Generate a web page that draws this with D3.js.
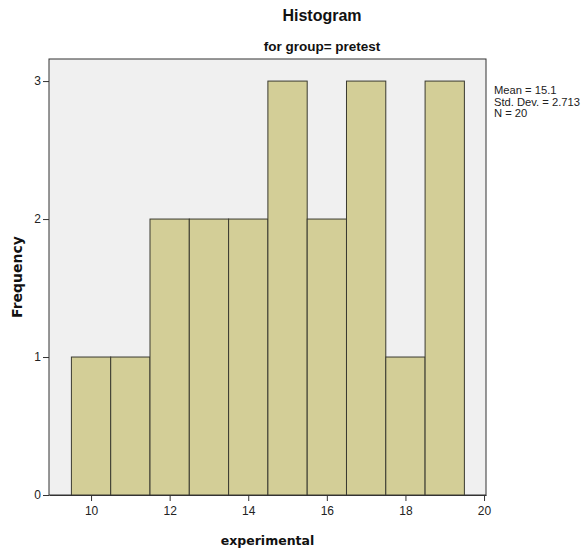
<!DOCTYPE html>
<html>
<head>
<meta charset="utf-8">
<script src="https://cdn.jsdelivr.net/npm/d3@7"></script>
<style>
  body { margin: 0; background: #fff; }
  svg { display: block; }
</style>
</head>
<body>
<svg width="583" height="554"></svg>
<script>
// bin centres (width 1) and frequencies
var binCentres = [10, 11, 12, 13, 14, 15, 16, 17, 18, 19];
var frequencies = [1, 1, 2, 2, 2, 3, 2, 3, 1, 3];
var xTicks = [10, 12, 14, 16, 18, 20];
var yTicks = [0, 1, 2, 3];
var statsLines = ["Mean = 15.1", "Std. Dev. = 2.713", "N = 20"];

(function() {
    var data = binCentres.map(function(c, i) {
        return { x0: c - 0.5, x1: c + 0.5, count: frequencies[i] };
    });

    var svg = d3.select("svg");
    var plot = { left: 49, right: 486, top: 59, bottom: 495 };
    var tickFont = "'Liberation Sans', Arial, sans-serif";

    var x = d3.scaleLinear().domain([8.93, 20.05]).range([plot.left, plot.right]);
    var y = d3.scaleLinear().domain([0, 3.16]).range([plot.bottom, plot.top]);

    //plot background
    svg.append("rect")
        .attr("x", plot.left)
        .attr("y", plot.top)
        .attr("width", plot.right - plot.left)
        .attr("height", plot.bottom - plot.top)
        .attr("fill", "#f0f0f0")
        .attr("stroke", "#333")
        .attr("stroke-width", 1);

    //bars
    svg.selectAll(".bar")
        .data(data)
      .enter().append("rect")
        .attr("class", "bar")
        .attr("x", function(d) { return x(d.x0); })
        .attr("y", function(d) { return y(d.count); })
        .attr("width", function(d) { return x(d.x1) - x(d.x0); })
        .attr("height", function(d) { return y(0) - y(d.count); })
        .attr("fill", "#d3ce97")
        .attr("stroke", "#3a3a30")
        .attr("stroke-width", 1);

    //X axis
    var xAxis = svg.append("g")
        .attr("transform", "translate(0," + plot.bottom + ")")
        .call(d3.axisBottom(x).tickValues(xTicks).tickSize(6).tickSizeOuter(0).tickFormat(d3.format("d")));
    xAxis.select(".domain").attr("stroke", "#333");
    xAxis.selectAll(".tick line").attr("stroke", "#333");
    xAxis.selectAll("text")
        .attr("font-family", tickFont)
        .attr("font-size", "12px")
        .attr("fill", "#222")
        .attr("dy", "0.95em");

    //Y axis
    var yAxis = svg.append("g")
        .attr("transform", "translate(" + plot.left + ",0)")
        .call(d3.axisLeft(y).tickValues(yTicks).tickSize(6).tickSizeOuter(0).tickFormat(d3.format("d")));
    yAxis.select(".domain").remove();
    yAxis.selectAll(".tick line").attr("stroke", "#333");
    yAxis.selectAll("text")
        .attr("font-family", tickFont)
        .attr("font-size", "12px")
        .attr("fill", "#222")
        .attr("x", -8);

    //titles
    svg.append("text")
        .attr("x", 322)
        .attr("y", 21)
        .attr("text-anchor", "middle")
        .attr("font-family", tickFont)
        .attr("font-size", "16px")
        .attr("font-weight", "bold")
        .attr("fill", "#111")
        .text("Histogram");

    svg.append("text")
        .attr("x", 322)
        .attr("y", 51)
        .attr("text-anchor", "middle")
        .attr("font-family", tickFont)
        .attr("font-size", "13.5px")
        .attr("font-weight", "bold")
        .attr("fill", "#111")
        .text("for group= pretest");

    svg.append("text")
        .attr("x", (plot.left + plot.right) / 2)
        .attr("y", 545)
        .attr("text-anchor", "middle")
        .attr("font-family", "'DejaVu Sans', Verdana, sans-serif")
        .attr("font-size", "12.5px")
        .attr("font-weight", "bold")
        .attr("fill", "#111")
        .text("experimental");

    svg.append("text")
        .attr("transform", "translate(22," + (plot.top + plot.bottom) / 2 + ") rotate(-90)")
        .attr("text-anchor", "middle")
        .attr("font-family", "'DejaVu Sans', Verdana, sans-serif")
        .attr("font-size", "14px")
        .attr("font-weight", "bold")
        .attr("fill", "#111")
        .text("Frequency");

    //summary statistics
    svg.append("g")
        .selectAll("text")
        .data(statsLines)
      .enter().append("text")
        .attr("x", 494)
        .attr("y", function(d, i) { return 94 + i * 11.7; })
        .attr("font-family", tickFont)
        .attr("font-size", "11.2px")
        .attr("fill", "#222")
        .text(function(d) { return d; });
})();
</script>
</body>
</html>
